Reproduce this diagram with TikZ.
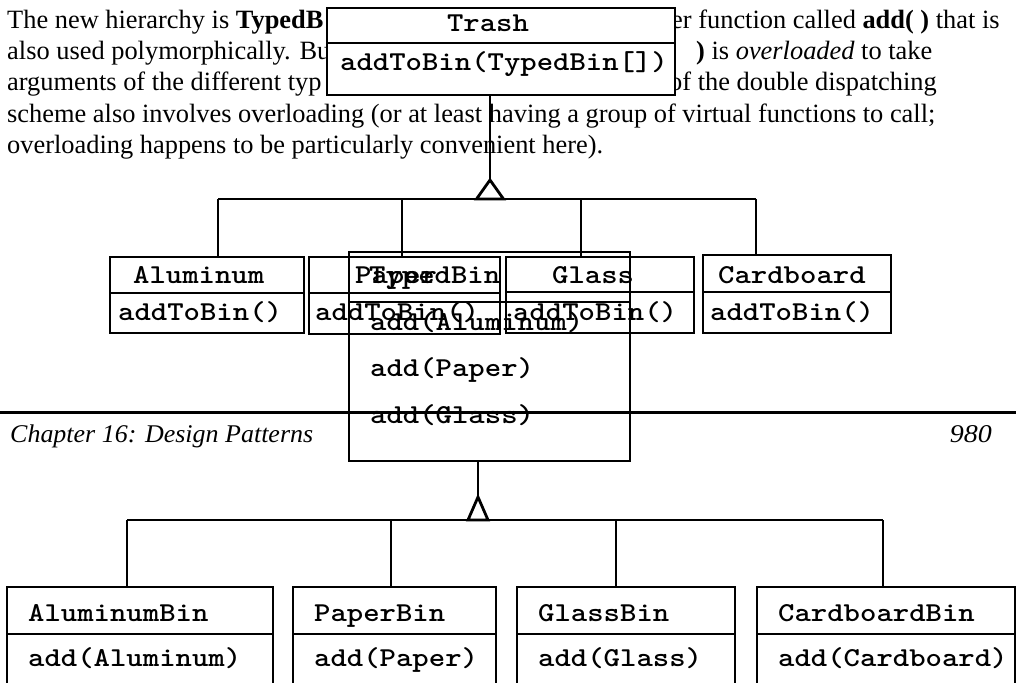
\documentclass[tikz,border=0pt]{standalone}
\usepackage{fontspec}
\usepackage{graphicx}
\setmainfont{Liberation Serif}
% typewriter labels: Latin Modern Mono (bold), widened to Courier's advance width
\newcommand{\cw}[1]{\scalebox{1.143}[1]{#1}}
\tikzset{
  umlbox/.style={draw, line width=2.8pt, inner sep=0pt, outer sep=0pt, anchor=north west},
  link/.style={line width=2.8pt},
  mono/.style={font=\fontsize{27.3}{30}\selectfont\ttfamily\bfseries, inner sep=0pt, anchor=base west},
  prose/.style={font=\fontsize{26.4}{31}\selectfont, inner sep=0pt, anchor=base west},
  foot/.style={font=\fontsize{25.5}{28}\selectfont\itshape, inner sep=0pt},
}
\begin{document}
\begin{tikzpicture}[x=1pt, y=-1pt]
\useasboundingbox[fill=white] (0,0) rectangle (1016,682);

% running text of the page
\node[prose] (p1l) at (7,29)  {The new hierarchy is \textbf{TypedB}};
\node[prose] (p2l) at (7,60)  {also used polymorphically. Bu};
\node[prose] (p3l) at (7,91)  {arguments of the different typ};
\node[prose] (p4)  at (7,122) {scheme also involves overloading (or at least having a group of virtual functions to call;};
\node[prose] (p5)  at (7,153) {overloading happens to be particularly convenient here).};
\node[prose] (p1r) at (671,29) {er function called \textbf{add( )} that is};
\node[prose] (p2r) at (696,60) {\textbf{)} is \textit{overloaded} to take};
\node[prose] (p3r) at (669,91) {of the double dispatching};

% Trash (drawn opaque over the text)
\node[umlbox, fill=white, minimum width=348pt, minimum height=87pt] (trash) at (327,8) {};
\draw[link] (trash.west |- 0,43) -- (trash.east |- 0,43);
\node[mono, anchor=base] (trashT) at (488,32) {\cw{Trash}};
\node[mono] (trashM) at (340,71) {\cw{addToBin(TypedBin[])}};

% first inheritance tree
\coordinate (apexA) at (490,180);
\coordinate (busAw) at (218,199);
\coordinate (busAe) at (756,199);
\draw[link] (trash.south -| apexA) -- (apexA);
\draw[link, line join=miter] (apexA) -- ++(-13.5,19) -- ++(27,0) -- cycle;
\draw[link] (busAw) -- (busAe);

\node[umlbox, minimum width=194pt, minimum height=76pt] (alu)  at (110,257) {};
\node[umlbox, minimum width=191pt, minimum height=77pt] (pap)  at (309,257) {};
\node[umlbox, minimum width=188pt, minimum height=76pt] (gla)  at (506,257) {};
\node[umlbox, minimum width=188pt, minimum height=78pt] (car)  at (703,255) {};
\draw[link] (alu.west |- 0,293) -- (alu.east |- 0,293);
\draw[link] (pap.west |- 0,293) -- (pap.east |- 0,293);
\draw[link] (gla.west |- 0,292) -- (gla.east |- 0,292);
\draw[link] (car.west |- 0,292) -- (car.east |- 0,292);

\draw[link] (busAw) -- (busAw |- alu.north);
\draw[link] (402,199) -- (402,257) coordinate (papTop);
\draw[link] (581,199) -- (581,257) coordinate (glaTop);
\draw[link] (busAe) -- (busAe |- car.north);

\node[mono] (aluT) at (133,283) {\cw{Aluminum}};
\node[mono] (aluM) at (118,320) {\cw{addToBin()}};
\node[mono] (papT) at (355,283) {\cw{Paper}};
\node[mono] (papM) at (315,320) {\cw{addToBin()}};
\node[mono] (glaT) at (552,283) {\cw{Glass}};
\node[mono] (glaM) at (513,320) {\cw{addToBin()}};
\node[mono] (carT) at (718,283) {\cw{Cardboard}};
\node[mono] (carM) at (710,320) {\cw{addToBin()}};

% TypedBin
\node[umlbox, minimum width=281pt, minimum height=209pt] (tb) at (349,252) {};
\draw[link] (tb.west |- 0,302) -- (tb.east |- 0,302);
\node[mono] (tbT)  at (369,283) {\cw{TypedBin}};
\node[mono] (tbM1) at (370,330) {\cw{add(Aluminum)}};
\node[mono] (tbM2) at (370,376) {\cw{add(Paper)}};
\node[mono] (tbM3) at (370,423) {\cw{add(Glass)}};

% page footer
\draw[line width=3pt] (0,412) coordinate (ruleW) -- (1016,412) coordinate (ruleE);
\node[foot, anchor=base west] (chap) at (10,442) {\resizebox{303pt}{\height}{Chapter 16: Design Patterns}};
\node[foot, anchor=base east] (page) at (992,442) {\resizebox{42pt}{\height}{980}};

% second inheritance tree
\coordinate (apexB) at (478,497);
\coordinate (busBw) at (127,520);
\coordinate (busBe) at (883,520);
\draw[link] (tb.south -| apexB) -- (apexB);
\draw[link, line join=miter] (apexB) -- ++(-10,23) -- ++(20,0) -- cycle;
\draw[link] (busBw) -- (busBe);

\node[umlbox, minimum width=266pt, minimum height=120pt] (alb) at (7,587) {};
\node[umlbox, minimum width=203pt, minimum height=120pt] (pab) at (293,587) {};
\node[umlbox, minimum width=218pt, minimum height=120pt] (glb) at (517,587) {};
\node[umlbox, minimum width=258pt, minimum height=120pt] (cab) at (757,587) {};
\foreach \b in {alb,pab,glb,cab}
  \draw[link] (\b.west |- 0,634) -- (\b.east |- 0,634);

\draw[link] (busBw) -- (busBw |- alb.north);
\draw[link] (391,520) -- (391,587) coordinate (pabTop);
\draw[link] (616,520) -- (616,587) coordinate (glbTop);
\draw[link] (busBe) -- (busBe |- cab.north);

\node[mono] (albT) at (28,621)  {\cw{AluminumBin}};
\node[mono] (albM) at (28,666)  {\cw{add(Aluminum)}};
\node[mono] (pabT) at (314,621) {\cw{PaperBin}};
\node[mono] (pabM) at (314,666) {\cw{add(Paper)}};
\node[mono] (glbT) at (538,621) {\cw{GlassBin}};
\node[mono] (glbM) at (538,666) {\cw{add(Glass)}};
\node[mono] (cabT) at (778,621) {\cw{CardboardBin}};
\node[mono] (cabM) at (778,666) {\cw{add(Cardboard)}};
\end{tikzpicture}
\end{document}
